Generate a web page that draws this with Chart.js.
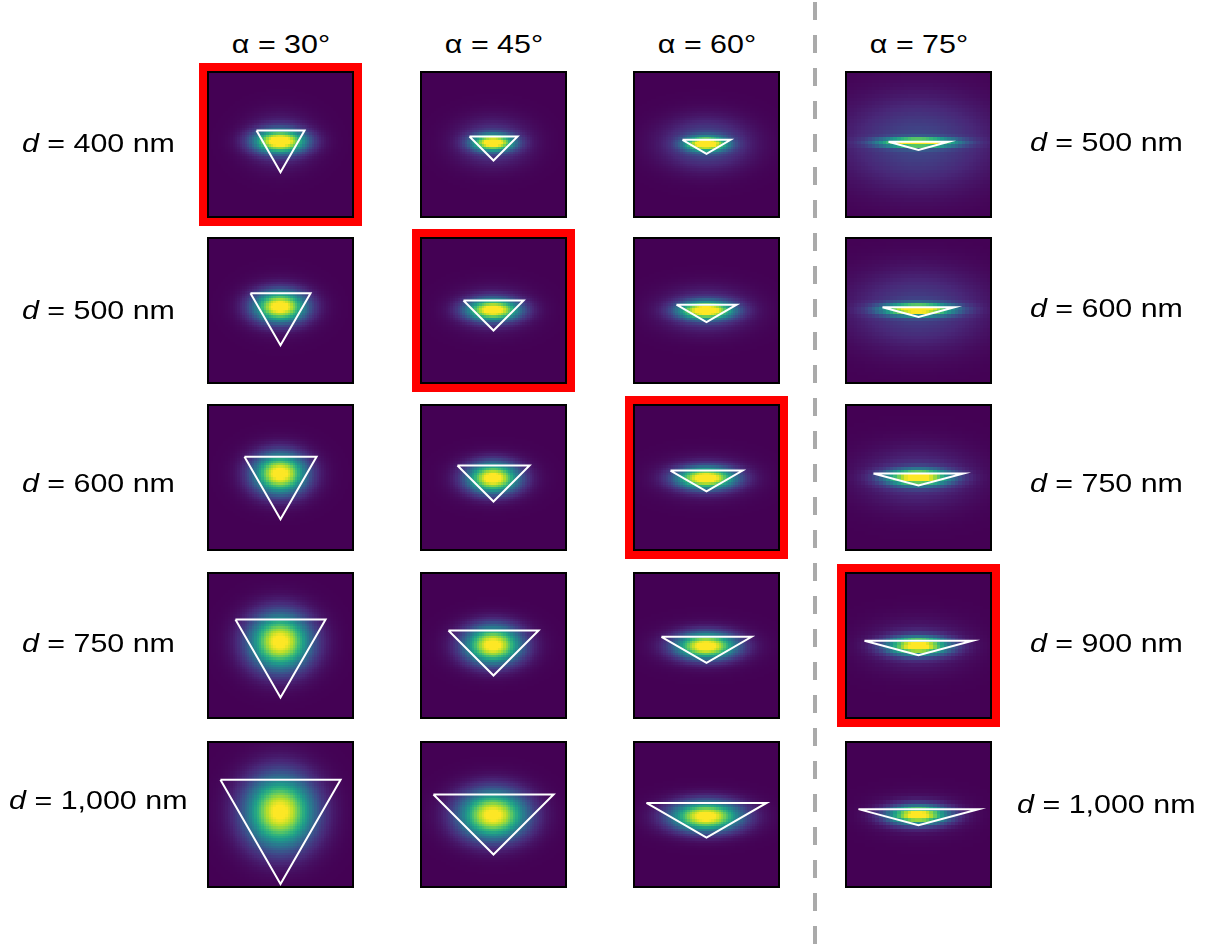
<!DOCTYPE html>
<html>
<head>
<meta charset="utf-8">
<script src="https://cdn.jsdelivr.net/npm/chart.js@4.4.0/dist/chart.umd.min.js"></script>
<style>
body{margin:0;background:#fff;width:1210px;height:949px;position:relative;overflow:hidden;font-family:"Liberation Sans",Arial,sans-serif;color:#000}
.panel{position:absolute;width:143px;height:143px;border:2px solid #000;background:#440154}
.panel canvas{display:block}
.hl{outline:8px solid #ff0000}
.txt{position:absolute;width:240px;text-align:center;font-size:26px;line-height:30px;white-space:nowrap}
.txt span{display:inline-block;transform:scaleX(1.17)}
.dash{position:absolute;left:813px;top:2px;width:4px;height:947px;background:repeating-linear-gradient(to bottom,#aaa 0,#aaa 18px,transparent 18px,transparent 33px)}
</style>
</head>
<body>
<div class="dash"></div>
<script>
// angles (columns) and particle sizes (rows)
var alphas = [30, 45, 60, 75];
var dLeft = [400, 500, 600, 750, 1000];
var dRight = [500, 600, 750, 900, 1000];
// which d list each column uses
var colD = [dLeft, dLeft, dLeft, dRight];
// highlighted panels [row, col]
var highlight = [[0, 0], [1, 1], [2, 2], [3, 3]];

// mode field (nm), per column then row
var peakY = [[30, 35, 35, 35, 25], [20, 10, 0, 8, 0], [10, 5, 0, 0, -12], [20, 12, 5, 0, 0]];
var sigX = [[145, 145, 145, 170, 190], [115, 145, 140, 155, 185], [115, 150, 160, 165, 190], [210, 200, 180, 170, 165]];
var sigY = [[62, 85, 110, 155, 200], [45, 58, 82, 105, 135], [38, 48, 58, 70, 82], [26, 34, 45, 50, 52]];
var haloA = [[0.18, 0.1, 0.08, 0.05, 0.04], [0.2, 0.14, 0.1, 0.07, 0.05], [0.26, 0.2, 0.15, 0.11, 0.08], [0.22, 0.2, 0.16, 0.13, 0.1]];
var haloX = [[180, 190, 200, 220, 250], [200, 210, 210, 230, 260], [240, 240, 240, 250, 270], [420, 380, 320, 280, 250]];
var haloY = [[140, 140, 150, 180, 220], [130, 120, 120, 130, 150], [140, 120, 110, 110, 110], [260, 220, 170, 140, 110]];

// layout
var colLeft = [207, 420, 633, 845];
var rowTop = [71, 237, 404, 572, 741];
var leftBase = [152, 319, 492, 652, 809];
var rightBase = [151, 317, 492, 652, 813];
var cellNm = [20, 20, 20, 30];

var viridisStops = ["#440154", "#482878", "#3e4989", "#31688e", "#26828e", "#1f9e89", "#35b779", "#6ece58", "#b5de2b", "#fde725"];
var vir = viridisStops.map(function (h) {
    return [parseInt(h.substr(1, 2), 16), parseInt(h.substr(3, 2), 16), parseInt(h.substr(5, 2), 16)];
});
function viridis(v) {
    v = Math.max(0, Math.min(1, v));
    var p = v * (vir.length - 1), i = Math.floor(p), f = p - i;
    if (i >= vir.length - 1) { i = vir.length - 2; f = 1; }
    var a = vir[i], b = vir[i + 1];
    return "rgb(" + Math.round(a[0] + (b[0] - a[0]) * f) + "," + Math.round(a[1] + (b[1] - a[1]) * f) + "," + Math.round(a[2] + (b[2] - a[2]) * f) + ")";
}

var heatPlugin = {
    id: "heat",
    beforeDatasetsDraw: function (chart) {
        var o = chart.options.plugins.heat;
        var xs = chart.scales.x, ys = chart.scales.y, ctx = chart.ctx;
        ctx.save();
        for (var gx = xs.min; gx < xs.max; gx += o.cell) {
            for (var gy = ys.min; gy < ys.max; gy += o.cell) {
                var cx = gx + o.cell / 2, cy = gy + o.cell / 2 - o.py;
                var v = Math.exp(-(cx * cx) / (2 * o.sx * o.sx) - (cy * cy) / (2 * o.sy * o.sy));
                v += o.ha * Math.exp(-(cx * cx) / (2 * o.hx * o.hx) - (cy * cy) / (2 * o.hy * o.hy));
                var x0 = Math.floor(xs.getPixelForValue(gx)), x1 = Math.ceil(xs.getPixelForValue(gx + o.cell));
                var y0 = Math.floor(ys.getPixelForValue(gy + o.cell)), y1 = Math.ceil(ys.getPixelForValue(gy));
                ctx.fillStyle = viridis(v);
                ctx.fillRect(x0, y0, x1 - x0, y1 - y0);
            }
        }
        ctx.restore();
    }
};

function triangle(d, a) {
    var h = (d / 2) / Math.tan(a * Math.PI / 180);
    return [{x: -d / 2, y: h / 3}, {x: d / 2, y: h / 3}, {x: 0, y: -2 * h / 3}, {x: -d / 2, y: h / 3}];
}

function addText(html, cx, top) {
    var el = document.createElement("div");
    el.className = "txt";
    el.style.left = (cx - 120) + "px";
    el.style.top = top + "px";
    el.innerHTML = "<span>" + html + "</span>";
    document.body.appendChild(el);
}

for (var c = 0; c < alphas.length; c++) {
    addText("α = " + alphas[c] + "°", colLeft[c] + 73.5, 29);
    for (var r = 0; r < 5; r++) {
        var d = colD[c][r];
        var box = document.createElement("div");
        box.className = "panel";
        for (var k = 0; k < highlight.length; k++) {
            if (highlight[k][0] == r && highlight[k][1] == c) box.className += " hl";
        }
        box.style.left = colLeft[c] + "px";
        box.style.top = rowTop[r] + "px";
        var cv = document.createElement("canvas");
        cv.width = 143;
        cv.height = 143;
        box.appendChild(cv);
        document.body.appendChild(box);
        new Chart(cv.getContext("2d"), {
            type: "scatter",
            data: {
                datasets: [{
                    data: triangle(d, alphas[c]),
                    showLine: true,
                    borderColor: "#ffffff",
                    borderWidth: 2,
                    pointRadius: 0,
                    fill: false,
                    tension: 0
                }]
            },
            options: {
                responsive: false,
                animation: false,
                events: [],
                layout: {padding: 0},
                plugins: {
                    legend: {display: false},
                    tooltip: {enabled: false},
                    heat: {
                        cell: cellNm[c], py: peakY[c][r], sx: sigX[c][r], sy: sigY[c][r],
                        ha: haloA[c][r], hx: haloX[c][r], hy: haloY[c][r]
                    }
                },
                scales: {
                    x: {type: "linear", min: -595, max: 595, display: false},
                    y: {type: "linear", min: -595, max: 595, display: false}
                }
            },
            plugins: [heatPlugin]
        });
    }
}

function fmt(n) {
    return n.toLocaleString("en-US");
}
for (var r = 0; r < 5; r++) {
    addText("<i>d</i> = " + fmt(dLeft[r]) + " nm", 98, leftBase[r] - 24);
    addText("<i>d</i> = " + fmt(dRight[r]) + " nm", 1106, rightBase[r] - 24);
}
</script>
</body>
</html>
